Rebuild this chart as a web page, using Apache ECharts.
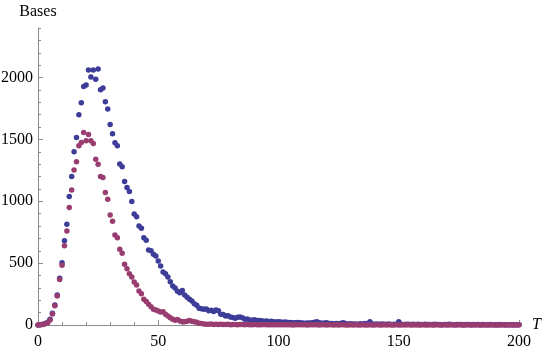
<!DOCTYPE html>
<html>
<head>
<meta charset="utf-8">
<script src="https://cdn.jsdelivr.net/npm/echarts@6/dist/echarts.min.js"></script>
<style>
  html, body { margin: 0; padding: 0; background: #fff; }
  #chart { width: 545px; height: 349px; }
</style>
</head>
<body>
<div id="chart"></div>
<script>
// T runs 0..200, one value per step
const blueBases = [
  0, 3, 6, 12, 22, 46, 95, 162, 243, 378,
  504, 680, 815, 1038, 1200, 1400, 1515, 1699, 1796, 1928,
  1939, 2061, 2004, 2061, 1985, 2069, 1901, 1915, 1804, 1745,
  1621, 1545, 1472, 1448, 1302, 1278, 1159, 1111, 1078, 998,
  896, 874, 801, 782, 706, 685, 607, 599, 572, 558,
  518, 477, 429, 415, 388, 350, 316, 300, 272, 261,
  278, 242, 225, 208, 194, 172, 160, 135, 132, 127,
  130, 116, 120, 110, 122, 116, 87, 85, 73, 75,
  65, 60, 55, 62, 64, 58, 46, 48, 40, 38,
  42, 36, 36, 34, 30, 32, 29, 30, 27, 25,
  27, 24, 22, 24, 20, 21, 19, 18, 20, 19,
  16, 15, 17, 16, 18, 22, 27, 18, 14, 16,
  19, 12, 13, 11, 12, 10, 14, 19, 11, 9,
  10, 8, 9, 7, 10, 8, 12, 9, 27, 8,
  7, 9, 6, 8, 7, 6, 9, 5, 7, 6,
  27, 6, 5, 7, 6, 4, 6, 5, 7, 5,
  4, 6, 5, 4, 5, 6, 4, 5, 3, 5,
  4, 6, 4, 3, 5, 4, 5, 3, 4, 4,
  3, 5, 3, 4, 3, 4, 2, 3, 4, 3,
  3, 2, 4, 3, 2, 3, 3, 2, 3, 2,
  3
];
const magentaBases = [
  0, 2, 5, 10, 19, 40, 88, 155, 235, 368,
  483, 640, 760, 949, 1090, 1252, 1319, 1448, 1475, 1556,
  1489, 1540, 1489, 1466, 1340, 1300, 1200, 1192, 1070, 1017,
  888, 838, 728, 706, 612, 580, 491, 455, 415, 388,
  348, 324, 275, 253, 208, 189, 167, 148, 127, 121,
  113, 105, 108, 87, 73, 59, 46, 38, 44, 32,
  27, 27, 30, 36, 30, 27, 22, 15, 12, 9,
  7, 6, 8, 5, 7, 4, 6, 5, 4, 6,
  3, 5, 4, 3, 5, 4, 3, 4, 3, 2,
  4, 3, 3, 2, 4, 3, 2, 3, 2, 3,
  2, 2, 3, 2, 2, 3, 1, 2, 2, 3,
  2, 2, 1, 2, 3, 2, 2, 1, 2, 2,
  1, 2, 2, 1, 2, 1, 2, 2, 1, 1,
  2, 1, 2, 1, 1, 2, 1, 1, 2, 1,
  1, 2, 1, 1, 2, 1, 2, 1, 1, 2,
  1, 1, 2, 1, 2, 1, 1, 2, 1, 1,
  2, 1, 1, 2, 1, 1, 2, 1, 1, 2,
  1, 1, 2, 1, 1, 2, 1, 1, 1, 2,
  1, 1, 2, 1, 1, 1, 2, 1, 1, 2,
  1, 1, 1, 2, 1, 1, 2, 1, 1, 1,
  2
];
const xTicks = [0, 50, 100, 150, 200];
const yTicks = [0, 500, 1000, 1500, 2000];

const axisGray = '#8c8c8c';
const serif = '"Liberation Serif", "DejaVu Serif", serif';

const chart = echarts.init(document.getElementById('chart'));

const toPoints = arr => arr.map((v, i) => [i, v]);

chart.setOption({
  backgroundColor: '#fff',
  animation: false,
  grid: { left: 38, right: 26, top: 28, bottom: 24, outerBoundsMode: 'none', containLabel: false },
  xAxis: {
    type: 'value',
    min: xTicks[0],
    max: xTicks[xTicks.length - 1],
    interval: 50,
    name: 'T',
    nameLocation: 'end',
    nameGap: 13,
    nameTextStyle: { color: '#000', fontFamily: serif, fontSize: 16, fontStyle: 'italic' },
    axisLine: { lineStyle: { color: axisGray, width: 1 } },
    axisTick: { inside: true, length: 5, lineStyle: { color: axisGray } },
    minorTick: { show: true, splitNumber: 5, length: 3, lineStyle: { color: axisGray } },
    axisLabel: { color: '#000', fontFamily: serif, fontSize: 16, margin: 9 },
    splitLine: { show: false }
  },
  yAxis: [
    {
      type: 'value',
      min: 0,
      max: 2400,
      interval: 500,
      name: 'Bases',
      nameLocation: 'end',
      nameGap: 8,
      nameTextStyle: { color: '#000', fontFamily: serif, fontSize: 16 },
      axisLine: { lineStyle: { color: axisGray, width: 1 } },
      axisTick: { inside: true, length: 5, lineStyle: { color: axisGray } },
      axisLabel: {
        color: '#000', fontFamily: serif, fontSize: 16, margin: 5,
        showMaxLabel: false,
        formatter: v => (yTicks.includes(v) ? String(v) : '')
      },
      splitLine: { show: false }
    },
    {
      // short ticks every 100
      type: 'value',
      position: 'left',
      min: 0,
      max: 2400,
      interval: 100,
      axisLine: { show: false },
      axisTick: { inside: true, length: 3, lineStyle: { color: axisGray } },
      axisLabel: { show: false },
      splitLine: { show: false }
    }
  ],
  series: [
    {
      name: 'blue',
      type: 'scatter',
      data: toPoints(blueBases),
      symbolSize: 5.5,
      itemStyle: { color: '#3d3d99', opacity: 1 },
      z: 2
    },
    {
      name: 'magenta',
      type: 'scatter',
      data: toPoints(magentaBases),
      symbolSize: 5.5,
      itemStyle: { color: '#993d71', opacity: 1 },
      z: 3
    }
  ]
});
</script>
</body>
</html>
